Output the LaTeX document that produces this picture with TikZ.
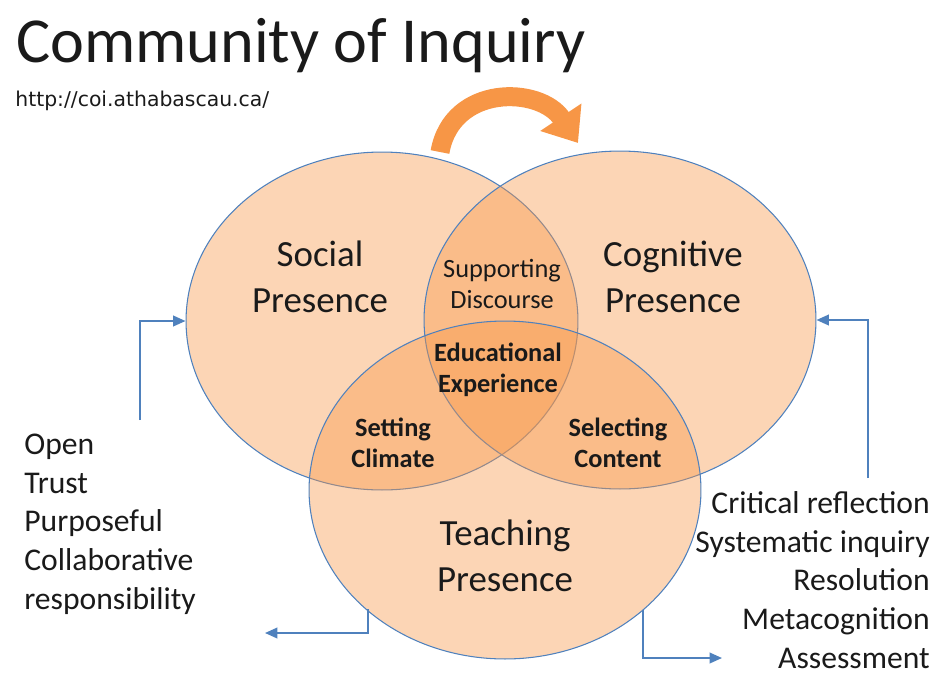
\documentclass[tikz,border=0pt]{standalone}
\usepackage{fontspec}
\setmainfont{Carlito}
\newfontfamily\urlfont{DejaVu Sans}
\usepackage{xcolor}
\usetikzlibrary{arrows.meta,positioning,shapes.geometric}
\definecolor{coiorange}{HTML}{F79646}
\definecolor{coiblue}{HTML}{4F81BD}
\definecolor{coitext}{HTML}{1A1A1A}

\begin{document}
\begin{tikzpicture}[
  x=0.02cm, y=-0.02cm, text=coitext,
  venn/.style={ellipse, draw=coiblue, line width=0.6pt, fill=coiorange, fill opacity=0.4,
               text opacity=1, inner sep=0pt, minimum width=7.84cm, minimum height=6.76cm},
  big/.style={align=center, font=\fontsize{21}{26}\selectfont},
  small/.style={align=center, font=\fontsize{15}{17.6}\selectfont},
  smallb/.style={small, font=\fontsize{15}{17.6}\selectfont\bfseries},
  items/.style={font=\fontsize{18}{22}\selectfont, inner sep=0pt},
  feed/.style={-{Triangle[width=6pt,length=7pt]}, coiblue, line width=1.1pt},
  turn/.style={-{Triangle[width=0.95cm,length=0.62cm]}, coiorange, line width=0.38cm}
]
  \useasboundingbox (0,0) rectangle (940,680);
  \node[venn] (social) at (382,321) {};
  \node[venn] (cognitive) at (620,320) {};
  \node[venn] (teaching) at (505,490) {};

  \node[anchor=base west, inner sep=0pt, font=\fontsize{36.5}{40}\selectfont] (title) at (16,62)
    {Community of Inquiry};
  \node[anchor=base west, inner sep=0pt, font=\urlfont\fontsize{11.6}{13}\selectfont] (url) at (15,106)
    {http://coi.athabascau.ca/};

  \node[big] (socialtxt) at (320,277) {Social\\Presence};
  \node[big] (cognitivetxt) at (673,277) {Cognitive\\Presence};
  \node[big] (teachingtxt) at (505,556) {Teaching\\Presence};
  \node[small] (discourse) at (502,284) {Supporting\\Discourse};
  \node[smallb] (experience) at (498,370) {Educational\\Experience};
  \node[smallb] (climate) at (393,443) {Setting\\Climate};
  \node[smallb] (content) at (618,443) {Selecting\\Content};

  \node[items, anchor=west, align=left] (sociallist) at (24,524)
    {Open\\Trust\\Purposeful\\Collaborative\\responsibility};
  \node[items, anchor=east, align=right] (cognitivelist) at (930,580)
    {Critical reflection\\Systematic inquiry\\Resolution\\Metacognition\\Assessment};

  \coordinate (socialfeed) at (140,420);
  \coordinate (cognitivefeed) at (868,478);
  \coordinate (teachleft) at (368,609);
  \coordinate (teachleftend) at (265,633);
  \coordinate (teachright) at (643,610);
  \coordinate (teachrightend) at (722,658);
  \draw[feed] (socialfeed) |- (social.west);
  \draw[feed] (cognitivefeed) |- (cognitive.east);
  \draw[feed] (teachleft) |- (teachleftend);
  \draw[feed] (teachright) |- (teachrightend);

  \coordinate (turnstart) at (440,152);
  \coordinate (turnend) at (578,143);
  \draw[white, line width=0.46cm] (turnstart) .. controls (452,84) and (536,82) .. (556,112);
  \draw[turn] (turnstart) .. controls (452,84) and (540,86) .. (turnend);
\end{tikzpicture}
\end{document}
